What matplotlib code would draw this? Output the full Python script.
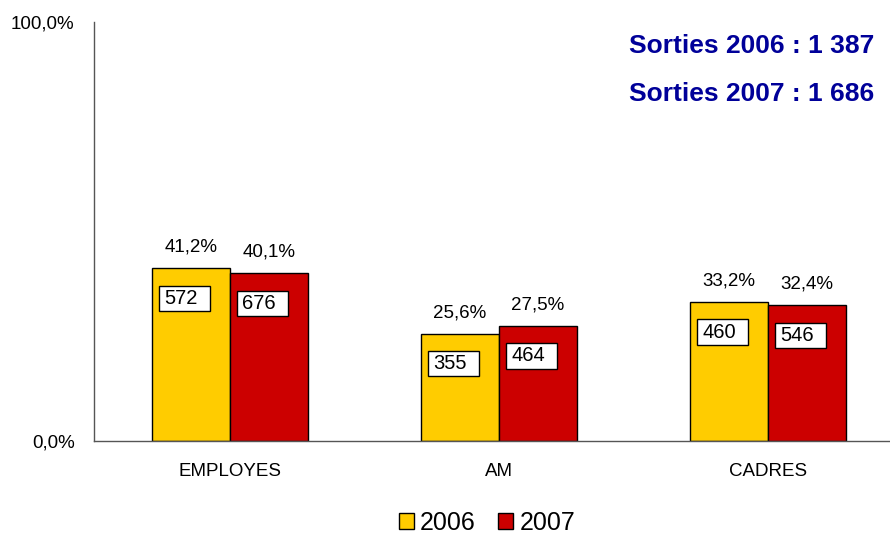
import numpy as np
import matplotlib.pyplot as plt
from matplotlib.patches import Patch, Rectangle

plt.rcParams['font.family'] = ['Liberation Sans', 'DejaVu Sans']

# --- data ---
categories = ["EMPLOYES", "AM", "CADRES"]
years = ["2006", "2007"]
pct_2006 = [41.2, 25.6, 33.2]
pct_2007 = [40.1, 27.5, 32.4]
count_2006 = [572, 355, 460]
count_2007 = [676, 464, 546]
totals = {"2006": "1 387", "2007": "1 686"}
colors = ["#FFCC00", "#CC0000"]

fig = plt.figure(figsize=(8.9, 5.35), dpi=100)
ax = fig.add_axes([94 / 890, 94 / 535, 1 - 94 / 890, 419 / 535])

x = np.arange(len(categories))
w = 0.29
series = [(pct_2006, count_2006), (pct_2007, count_2007)]
for i, (pcts, counts) in enumerate(series):
    xs = x + (i - 0.5) * w
    ax.bar(xs, pcts, width=w, color=colors[i], edgecolor="black", linewidth=1.0, zorder=2)
    for xi, p, c in zip(xs, pcts, counts):
        left = xi - w / 2
        # percentage above bar
        ax.text(xi, p + 5.0, f"{p:.1f}%".replace(".", ","), ha="center", va="center", fontsize=13.5)
        # count label in a white box inside the bar
        ax.add_patch(Rectangle((left + 0.026, p - 10.2), 0.19, 6.0, facecolor="white",
                               edgecolor="black", linewidth=1.0, zorder=3))
        ax.text(left + 0.046, p - 7.2, str(c), ha="left", va="center", fontsize=14.5, zorder=4)

ax.set_xlim(-0.505, 2.455)
ax.set_ylim(0, 100)
ax.set_yticks([0, 100])
ax.set_yticklabels(["0,0%", "100,0%"], fontsize=13.5)
ax.set_xticks(x)
ax.set_xticklabels(categories, fontsize=13.5)
ax.tick_params(axis="both", length=0)
ax.tick_params(axis="y", pad=14)
ax.tick_params(axis="x", pad=16)
for s in ["top", "right"]:
    ax.spines[s].set_visible(False)
for s in ["left", "bottom"]:
    ax.spines[s].set_color("#555555")
    ax.spines[s].set_linewidth(1.0)

for k, yr in enumerate(years):
    fig.text(874 / 890, 1 - (46 + 48 * k) / 535, f"Sorties {yr} : {totals[yr]}",
             ha="right", va="center", fontsize=19, fontweight="bold", color="#000099")

handles = [Patch(facecolor=c, edgecolor="black", linewidth=1.0) for c in colors]
fig.legend(handles, years, loc="center", bbox_to_anchor=(487 / 890, 1 - 523 / 535),
           ncol=2, frameon=False, fontsize=18, handlelength=0.6, handleheight=0.6,
           handletextpad=0.25, columnspacing=0.9)

fig.savefig("out.png", dpi=100)
